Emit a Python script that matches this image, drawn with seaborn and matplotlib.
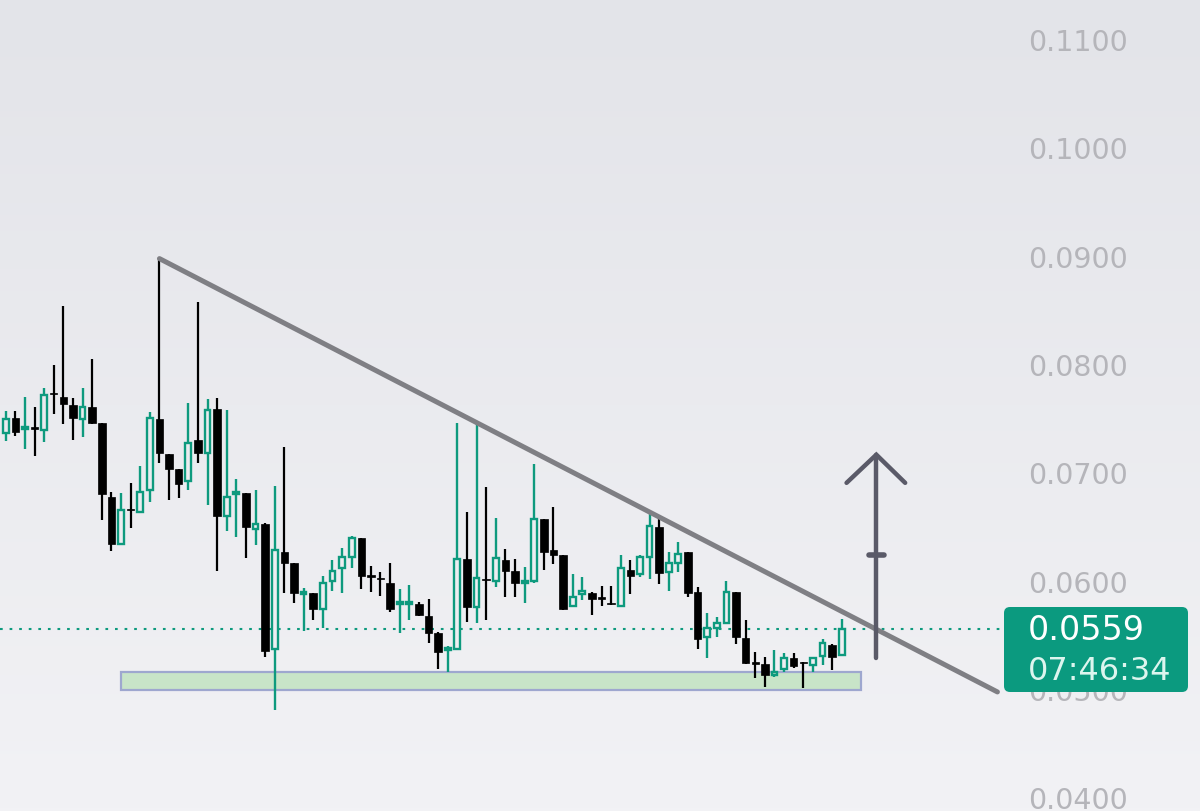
import numpy as np
import pandas as pd
import matplotlib
matplotlib.use("Agg")
import matplotlib.pyplot as plt
import seaborn as sns
from matplotlib.patches import Rectangle, FancyBboxPatch
from matplotlib.colors import LinearSegmentedColormap
from matplotlib.transforms import blended_transform_factory

# candle data (one entry per candle, left to right)
opens = [0.0740, 0.0754, 0.0744, 0.0745, 0.0743, 0.0777, 0.0773, 0.0766, 0.0753, 0.0764,
         0.0749, 0.0681, 0.0638, 0.0670, 0.0667, 0.0687, 0.0753, 0.0721, 0.0707, 0.0696,
         0.0734, 0.0722, 0.0762, 0.0663, 0.0684, 0.0685, 0.0651, 0.0656, 0.0541, 0.0630,
         0.0620, 0.05915, 0.0592, 0.0578, 0.0603, 0.0615, 0.0626, 0.0643, 0.0609, 0.0606,
         0.0602, 0.0582, 0.0582, 0.0582, 0.0571, 0.0555, 0.0540, 0.0541, 0.0624, 0.0579,
         0.0605, 0.0603, 0.0623, 0.0613, 0.0602, 0.0603, 0.0661, 0.0632, 0.0627, 0.0580,
         0.0591, 0.0592, 0.0588, 0.0583, 0.0580, 0.0614, 0.0610, 0.0626, 0.0653, 0.0612,
         0.0620, 0.0630, 0.0593, 0.0552, 0.0560, 0.0565, 0.0593, 0.0551, 0.0528, 0.0527,
         0.0517, 0.0522, 0.0532, 0.05283, 0.0526, 0.0534, 0.0544, 0.0535]
highs = [0.0760, 0.0760, 0.0773, 0.0764, 0.0782, 0.0803, 0.0857, 0.0772, 0.0782, 0.0808,
         0.0749, 0.0686, 0.0685, 0.0694, 0.0710, 0.0759, 0.0901, 0.0721, 0.0707, 0.0768,
         0.0861, 0.0771, 0.0772, 0.0761, 0.0698, 0.0685, 0.0687, 0.0657, 0.0691, 0.0727,
         0.0620, 0.0597, 0.0592, 0.0608, 0.0623, 0.0634, 0.0645, 0.0643, 0.0617, 0.0612,
         0.0620, 0.0596, 0.0600, 0.0584, 0.0587, 0.0556, 0.0543, 0.0749, 0.0667, 0.0749,
         0.0690, 0.0662, 0.0633, 0.0624, 0.0616, 0.0711, 0.0661, 0.0672, 0.0627, 0.0610,
         0.0607, 0.0593, 0.0599, 0.0599, 0.0627, 0.0623, 0.0627, 0.0667, 0.0663, 0.0630,
         0.0639, 0.0630, 0.0598, 0.0574, 0.0570, 0.0603, 0.0593, 0.0567, 0.0538, 0.0533,
         0.0540, 0.0537, 0.0537, 0.0529, 0.0533, 0.0550, 0.0545, 0.0568]
lows = [0.0733, 0.0737, 0.0725, 0.0719, 0.0732, 0.0758, 0.0748, 0.0734, 0.0736, 0.0748,
        0.0660, 0.0631, 0.0638, 0.0652, 0.0666, 0.0676, 0.0712, 0.0678, 0.0680, 0.0687,
        0.0712, 0.0674, 0.0613, 0.0650, 0.0644, 0.0625, 0.0637, 0.0533, 0.0484, 0.0592,
        0.0583, 0.0557, 0.0567, 0.0560, 0.0594, 0.0592, 0.0615, 0.0596, 0.0593, 0.0590,
        0.0575, 0.0555, 0.0567, 0.05715, 0.0546, 0.0522, 0.0519, 0.0540, 0.0566, 0.0565,
        0.0567, 0.0598, 0.0589, 0.0589, 0.0583, 0.0602, 0.0614, 0.0619, 0.0577, 0.05795,
        0.0586, 0.0572, 0.0580, 0.0581, 0.05795, 0.0591, 0.0607, 0.0605, 0.0601, 0.0594,
        0.0612, 0.0589, 0.0541, 0.0532, 0.0552, 0.0564, 0.0545, 0.0527, 0.0514, 0.0506,
        0.0515, 0.0519, 0.0523, 0.0505, 0.0519, 0.0526, 0.0521, 0.0535]
closes = [0.0753, 0.0741, 0.0746, 0.0744, 0.0775, 0.0776, 0.0767, 0.0754, 0.0764, 0.0749,
          0.0684, 0.0638, 0.0669, 0.0669, 0.0686, 0.0754, 0.0722, 0.0707, 0.0693, 0.0731,
          0.0722, 0.0761, 0.0663, 0.0681, 0.0685, 0.0653, 0.0656, 0.0539, 0.0632, 0.0620,
          0.0592, 0.05935, 0.0578, 0.0602, 0.0613, 0.0626, 0.0643, 0.0608, 0.06075, 0.0605,
          0.0578, 0.0584, 0.0584, 0.0572, 0.0555, 0.0538, 0.0542, 0.0624, 0.0579, 0.0606,
          0.0604, 0.0625, 0.0613, 0.0602, 0.0603, 0.0661, 0.0630, 0.0627, 0.0578, 0.0589,
          0.0594, 0.0587, 0.0587, 0.0582, 0.0615, 0.0608, 0.0626, 0.0654, 0.0611, 0.0620,
          0.0628, 0.0592, 0.0550, 0.0560, 0.0565, 0.0593, 0.0552, 0.0528, 0.0527, 0.0517,
          0.0519, 0.0532, 0.0525, 0.05275, 0.0532, 0.0546, 0.0533, 0.0559]

tick_values = [0.11, 0.10, 0.09, 0.08, 0.07, 0.06, 0.05, 0.04]
tick_labels = ["0.1100", "0.1000", "0.0900", "0.0800", "0.0700", "0.0600", "0.0500", "0.0400"]

last_price = 0.0559
last_label = "0.0559"
countdown = "07:46:34"

# drawings on the chart (candle index, price)
trend_x = [16.0, 103.2]
trend_y = [0.0901, 0.0501]
zone_x = [12.0, 89.0]
zone_y = [0.0503, 0.0519]
arrow_x = 90.6
arrow_y = [0.0532, 0.0720]
arrow_mark = 0.0627

GREEN = "#0e9a7e"
sns.set_theme(style="white")
plt.rcParams["font.family"] = ["DejaVu Sans"]

df = pd.DataFrame({"open": opens, "high": highs, "low": lows, "close": closes})
df["x"] = np.arange(len(df))
df["up"] = df["close"] >= df["open"]
df["top"] = df[["open", "close"]].max(axis=1)
df["bot"] = df[["open", "close"]].min(axis=1)
df["h"] = (df["top"] - df["bot"]).clip(lower=0.00012)

fig = plt.figure(figsize=(12, 8.11), dpi=100)
ax = fig.add_axes([0, 0, 1, 1])
xlim = (-0.593, 124.28)
ylim = (0.03911, 0.11397)
ax.set_xlim(*xlim)
ax.set_ylim(*ylim)
ax.axis("off")

# background gradient
bg = LinearSegmentedColormap.from_list("bg", ["#e3e4e9", "#f2f2f5"])
ax.imshow(np.linspace(0, 1, 256).reshape(-1, 1), cmap=bg, aspect="auto",
          extent=[xlim[0], xlim[1], ylim[0], ylim[1]], origin="upper", zorder=0)

# support zone
ax.add_patch(Rectangle((zone_x[0], zone_y[0]), zone_x[1] - zone_x[0], zone_y[1] - zone_y[0],
                       facecolor="#c8e4c8", edgecolor="#9ea7cf", lw=1.6, zorder=1))

up = df[df["up"]]
dn = df[~df["up"]]

# wicks
ax.vlines(dn["x"], dn["low"], dn["high"], color="black", lw=1.6, zorder=3)
ax.vlines(up["x"], up["top"], up["high"], color=GREEN, lw=1.7, zorder=3)
ax.vlines(up["x"], up["low"], up["bot"], color=GREEN, lw=1.7, zorder=3)

# bodies
ax.bar(dn["x"], dn["h"], bottom=dn["bot"], width=0.78, color="black",
       edgecolor="black", lw=0.5, zorder=4)
ax.bar(up["x"], up["h"], bottom=up["bot"], width=0.6, facecolor="none",
       edgecolor=GREEN, lw=1.7, zorder=4)

# last price dotted line
ax.axhline(last_price, xmin=0, xmax=1004 / 1200, color=GREEN, lw=1.5,
           linestyle=(0, (1.3, 3.3)), zorder=2)

# trend line
sns.lineplot(x=trend_x, y=trend_y, ax=ax, color="#7f7f84", lw=3.6,
             solid_capstyle="round", zorder=6)

# arrow
acol = "#5a5a68"
ax.plot([arrow_x, arrow_x], arrow_y, color=acol, lw=3.2, solid_capstyle="round", zorder=6)
ax.plot([arrow_x - 3.1, arrow_x, arrow_x + 3.0],
        [arrow_y[1] - 0.0026, arrow_y[1], arrow_y[1] - 0.0026],
        color=acol, lw=3.2, solid_capstyle="round", solid_joinstyle="miter", zorder=6)
ax.plot([arrow_x - 0.75, arrow_x + 0.75], [arrow_mark, arrow_mark], color=acol, lw=4,
        solid_capstyle="round", zorder=6)

# price scale labels
tr = blended_transform_factory(ax.transAxes, ax.transData)
for v, lab in zip(tick_values, tick_labels):
    ax.text(1028 / 1200, v, lab, transform=tr, ha="left", va="center",
            fontsize=20.5, color="#b5b5ba", zorder=2)

# last price badge
ax.add_patch(FancyBboxPatch((1004 / 1200, 1 - 692 / 811), 184 / 1200, 85 / 811,
                            boxstyle="round,pad=0,rounding_size=0.005",
                            mutation_aspect=1200 / 811, transform=ax.transAxes,
                            facecolor="#0b9a7f", edgecolor="none", zorder=7, clip_on=False))
ax.text(1028 / 1200, 1 - 630 / 811, last_label, transform=ax.transAxes, ha="left",
        va="center", fontsize=24, color="white", zorder=8)
ax.text(1028 / 1200, 1 - 671 / 811, countdown, transform=ax.transAxes, ha="left",
        va="center", fontsize=23, color="#dcf5ee", zorder=8)

fig.savefig("out.png", dpi=100)
